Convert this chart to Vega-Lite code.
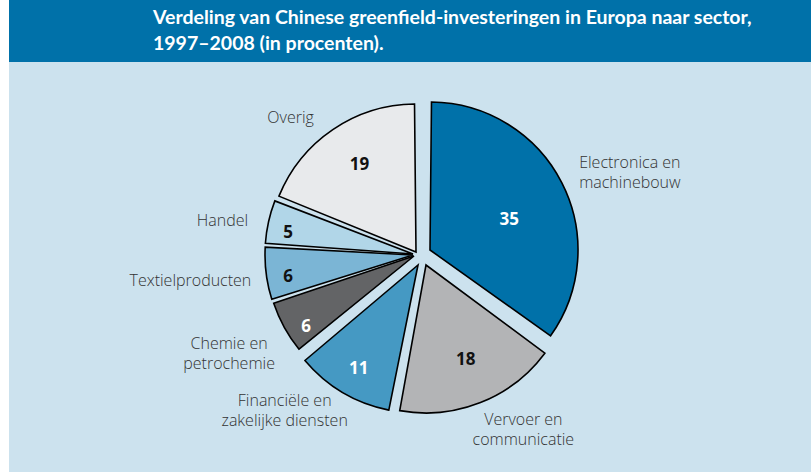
{
  "$schema": "https://vega.github.io/schema/vega-lite/v6.json",
  "background": "white",
  "padding": {"left": 9, "top": 0, "right": 0, "bottom": 0},
  "spacing": 0,
  "title": {
    "text": ["Verdeling van Chinese greenfield-investeringen in Europa naar sector,", "1997–2008 (in procenten)."],
    "anchor": "start",
    "orient": "top",
    "offset": -54,
    "dx": 144,
    "color": "white",
    "font": "Lato",
    "fontWeight": "bold",
    "fontSize": 19.5,
    "lineHeight": 26,
    "zindex": 1
  },
  "datasets": {
    "sectors": [
      {"order": 1, "sector": "Electronica en machinebouw", "label": "Electronica en\nmachinebouw", "pct": 35},
      {"order": 2, "sector": "Vervoer en communicatie", "label": "Vervoer en\ncommunicatie", "pct": 18},
      {"order": 3, "sector": "Financiële en zakelijke diensten", "label": "Financiële en\nzakelijke diensten", "pct": 11},
      {"order": 4, "sector": "Chemie en petrochemie", "label": "Chemie en\npetrochemie", "pct": 6},
      {"order": 5, "sector": "Textielproducten", "label": "Textielproducten", "pct": 6},
      {"order": 6, "sector": "Handel", "label": "Handel", "pct": 5},
      {"order": 7, "sector": "Overig", "label": "Overig", "pct": 19}
    ]
  },
  "vconcat": [
    {
      "width": 802,
      "height": 62,
      "view": {"fill": "#0071a9", "stroke": null},
      "data": {"values": [{}]},
      "mark": {"type": "text", "text": ""},
      "encoding": {}
    },
    {
      "width": 802,
      "height": 410,
      "view": {"fill": "#cce2ee", "stroke": null},
      "data": {"name": "sectors"},
      "encoding": {
        "theta": {"field": "pct", "type": "quantitative", "stack": true},
        "order": {"field": "order", "type": "quantitative"}
      },
      "layer": [
        {
          "mark": {
            "type": "arc",
            "outerRadius": 148,
            "padAngle": 0.02,
            "stroke": "black",
            "strokeWidth": 1.6,
            "strokeJoin": "miter",
            "xOffset": {"expr": "6 + [14,10,2,-2,-3,-3,0][datum.order-1]"},
            "yOffset": {"expr": "-12 + [-5,10,10,1,0,-1,-3][datum.order-1]"}
          },
          "encoding": {
            "color": {
              "field": "sector",
              "type": "nominal",
              "legend": null,
              "scale": {
                "domain": ["Electronica en machinebouw", "Vervoer en communicatie", "Financiële en zakelijke diensten", "Chemie en petrochemie", "Textielproducten", "Handel", "Overig"],
                "range": ["#0071a9", "#b3b4b6", "#4599c3", "#636466", "#7bb5d5", "#b1d6e8", "#e8eaec"]
              }
            }
          }
        },
        {
          "mark": {
            "type": "text",
            "font": "Open Sans",
            "fontWeight": "bold",
            "fontSize": 17,
            "baseline": "middle",
            "align": "center",
            "xOffset": 6,
            "yOffset": -12,
            "radius": {"expr": "[99,116,128,131,130,130,106][datum.order-1]"},
            "dx": {"expr": "[5,7,8,5,1,-1,3][datum.order-1]"},
            "dy": {"expr": "[10,-3,4,9,6,6,-2][datum.order-1]"},
            "fill": {"expr": "indexof([1,3,4], datum.order) >= 0 ? 'white' : '#111111'"}
          },
          "encoding": {
            "text": {"field": "pct", "type": "quantitative"}
          }
        },
        {
          "mark": {
            "type": "text",
            "font": "Open Sans",
            "fontWeight": 300,
            "fontSize": 16,
            "lineBreak": "\n",
            "lineHeight": 20,
            "baseline": "middle",
            "fill": "#333333",
            "xOffset": 6,
            "yOffset": -12,
            "align": {"expr": "['left','center','center','center','right','right','right'][datum.order-1]"},
            "radius": {"expr": "[182,202,201,211,167,171,171][datum.order-1]"},
            "dx": {"expr": "[1,33,-29,-2,1,-1,-6][datum.order-1]"},
            "dy": {"expr": "[-9,-23,-27,-13,5,3,4][datum.order-1]"}
          },
          "encoding": {
            "text": {"field": "label", "type": "nominal"}
          }
        }
      ]
    }
  ]
}
